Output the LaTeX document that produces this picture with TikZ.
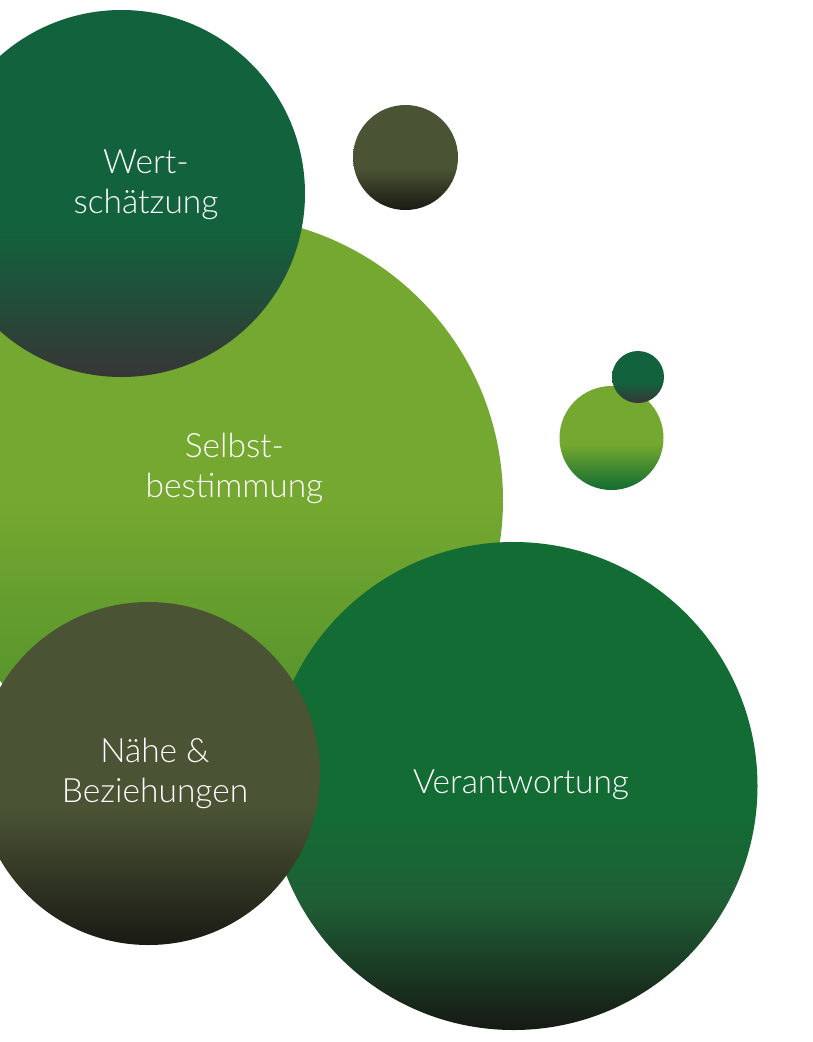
\documentclass[tikz,border=0pt]{standalone}
\usepackage{fontspec}
\setmainfont{Lato}[UprightFont={* Light}]
\definecolor{wgreen}{HTML}{12623D}
\definecolor{wdark}{HTML}{363636}
\definecolor{vgreen}{HTML}{136C34}
\definecolor{vmid}{HTML}{1F5E35}
\definecolor{vdark}{HTML}{161914}
\definecolor{olive}{HTML}{4A5434}
\definecolor{odark}{HTML}{1A1A14}
\definecolor{lgreen}{HTML}{74A830}
\definecolor{lmid}{HTML}{5A962D}
\definecolor{lbot}{HTML}{4F8E2C}
\definecolor{sbot}{HTML}{116B32}
\pgfdeclareverticalshading{wertshade}{100bp}{color(0bp)=(wdark); color(25bp)=(wdark); color(45bp)=(wgreen); color(100bp)=(wgreen)}
\pgfdeclareverticalshading{vershade}{100bp}{color(0bp)=(vdark); color(25bp)=(vdark); color(38bp)=(vmid); color(47bp)=(vgreen); color(100bp)=(vgreen)}
\pgfdeclareverticalshading{oliveshade}{100bp}{color(0bp)=(odark); color(25bp)=(odark); color(45bp)=(olive); color(100bp)=(olive)}
\pgfdeclareverticalshading{bigshade}{100bp}{color(0bp)=(lbot); color(25bp)=(lbot); color(34bp)=(lmid); color(50bp)=(lgreen); color(100bp)=(lgreen)}
\pgfdeclareverticalshading{smallshade}{100bp}{color(0bp)=(sbot); color(25bp)=(sbot); color(47bp)=(lgreen); color(100bp)=(lgreen)}
\tikzset{
  bubble/.style={circle, inner sep=0pt, outer sep=0pt, shade, shading=#1},
  label text/.style={text=white, align=center, font=\fontsize{33.5}{40}\selectfont, inner sep=0pt, anchor=base}
}
\begin{document}
\begin{tikzpicture}[x=1pt, y=-1pt]
\useasboundingbox (0,0) rectangle (813,1042);
\node[bubble=bigshade, minimum size=568pt] (selbst) at (219,500) {};
\node[bubble=wertshade, minimum size=367pt] (wert) at (121.5,193.5) {};
\node[bubble=oliveshade, minimum size=105pt] (dot1) at (405.5,157.5) {};
\node[bubble=smallshade, minimum size=104pt] (dot2) at (611.5,438) {};
\node[bubble=wertshade, minimum size=52pt] (dot3) at (638,377) {};
\node[bubble=vershade, minimum size=488pt] (verant) at (513.5,786) {};
\node[bubble=oliveshade, minimum size=343pt] (naehe) at (148.5,773.5) {};
\node[label text] (twert) at (146,213) {Wert-\\schätzung};
\node[label text] (tselbst) at (234.5,497) {Selbst-\\bestimmung};
\node[label text] (tnaehe) at (155,802) {Nähe \&\\Beziehungen};
\node[label text] (tverant) at (521,793) {Verantwortung};
\end{tikzpicture}
\end{document}
